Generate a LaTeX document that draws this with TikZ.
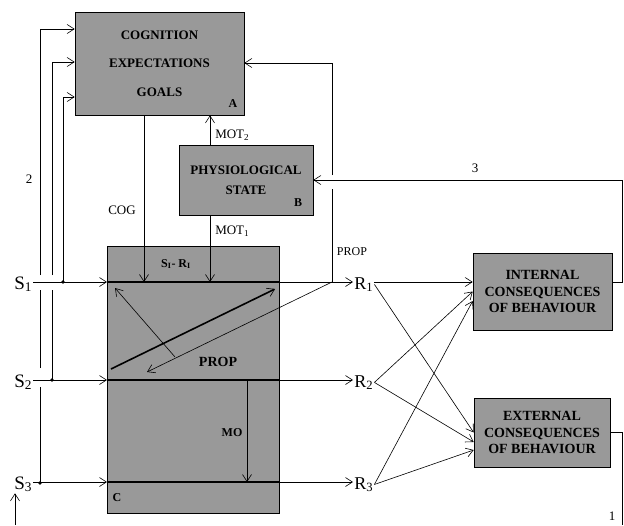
\documentclass[tikz,border=0pt]{standalone}
\usepackage{fontspec}
\setmainfont{Liberation Serif}
\usetikzlibrary{arrows.meta}

\tikzset{
    box/.style={draw, fill=black!40, line width=0.6pt, inner sep=0pt, align=center,
        font=\fontsize{13}{15.6}\selectfont\bfseries},
    cbox/.style={box, font=\fontsize{14}{16.5}\selectfont\bfseries},
    arr/.style={-{Straight Barb[length=7pt,width=9pt,line width=0.6pt]}},
    band/.style={line width=2.4pt},
    lbl/.style={inner sep=0pt, font=\fontsize{13}{15}\selectfont},
    blbl/.style={inner sep=0pt, font=\fontsize{12}{14}\selectfont\bfseries},
    bigl/.style={inner sep=1pt, font=\fontsize{19}{20}\selectfont},
}

\begin{document}
\begin{tikzpicture}[x=1pt, y=-1pt, line width=0.6pt]
    \useasboundingbox (0,0) rectangle (624,525);

    \node[box, minimum width=169pt, minimum height=103pt] (A) at (159.5,63.5)
        {COGNITION\\[13pt]EXPECTATIONS\\[13pt]GOALS};
    \node[box, minimum width=134pt, minimum height=70pt] (B) at (246,180)
        {PHYSIOLOGICAL\\[4.5pt]STATE};
    \node[box, minimum width=172pt, minimum height=267pt] (C) at (193,379.5) {};
    \node[cbox, minimum width=139pt, minimum height=77pt] (Int) at (542.5,291.5)
        {INTERNAL\\CONSEQUENCES\\OF BEHAVIOUR};
    \node[cbox, minimum width=136pt, minimum height=69pt] (Ext) at (542,432.5)
        {EXTERNAL\\CONSEQUENCES\\OF BEHAVIOUR};

    \node[blbl] (al) at (233,104) {A};
    \node[blbl] (bl) at (298,203) {B};
    \node[blbl] (cl) at (117,498) {C};

    \foreach \s/\y in {1/282,2/380,3/482} {
        \coordinate (in\s) at (107,\y);
        \coordinate (out\s) at (279,\y);
        \node[bigl, anchor=base west] (S\s) at (13,\y+7) {S\textsubscript{\s}};
        \node[bigl, anchor=base west, font=\fontsize{18}{20}\selectfont] (R\s) at (353,\y+7) {R\textsubscript{\s}};
        \draw[band] (in\s) -- (out\s);
        \draw[arr] (S\s.east |- in\s) -- (in\s);
        \draw[arr] (out\s) -- (R\s.west |- out\s);
    }

    \coordinate (j1) at (63,282);
    \coordinate (j2) at (52,380);
    \coordinate (j3) at (40,483);
    \coordinate (t1) at (63,97);
    \coordinate (t2) at (52,62);
    \coordinate (t3) at (40,29);
    \draw[arr] (j1) -- (t1) -- (A.west |- t1);
    \draw (j2) -- (52,290);
    \draw[arr] (52,275) -- (t2) -- (A.west |- t2);
    \draw (j3) -- (40,387);
    \draw (40,368) -- (40,290);
    \draw[arr] (40,275) -- (t3) -- (A.west |- t3);
    \foreach \j in {1,2,3}
        \fill (j\j) circle (1.8);
    \node[lbl] (n2) at (29,179) {2};

    \coordinate (cog) at (144,282);
    \coordinate (mot) at (210,282);
    \draw[arr] (A.south -| cog) -- (cog);
    \draw[arr] (B.south -| mot) -- (mot);
    \draw[arr] (B.north -| mot) -- (A.south -| mot);
    \node[lbl] (cogl) at (122,210) {COG};
    \node[lbl, anchor=west] (mot2l) at (215,135) {MOT\textsubscript{2}};
    \node[lbl, anchor=west] (mot1l) at (215,231) {MOT\textsubscript{1}};
    \node[blbl] (srl) at (176,264) {S\textsubscript{I}- R\textsubscript{I}};

    \coordinate (p0) at (332,282);
    \coordinate (p1) at (332,63);
    \coordinate (p2) at (147,372);
    \draw (p0) -- (332,189);
    \draw[arr] (332,175) -- (p1) -- (A.east |- p1);
    \draw[arr] (p0) -- (p2);
    \node[lbl, font=\fontsize{12}{12}\selectfont] (propl) at (352,252) {PROP};

    \coordinate (d0) at (111,369);
    \coordinate (d1) at (275,289);
    \coordinate (e0) at (175,357);
    \coordinate (e1) at (115,288);
    \draw[arr, line width=1.6pt] (d0) -- (d1);
    \draw[arr] (e0) -- (e1);
    \node[blbl, font=\fontsize{14}{14}\selectfont\bfseries] (propc) at (218,362) {PROP};

    \coordinate (mo) at (247,380);
    \draw[arr] (mo) -- (mo |- in3);
    \node[blbl] (mol) at (232,433) {MO};

    \draw[arr] (R1.east |- out1) -- (Int.west |- out1);
    \draw[arr] (R1.east) -- (Ext.west);
    \draw[arr] (R2.east) -- (Int.west);
    \draw[arr] (R2.east) -- ([yshift=-9.5pt]Ext.west);
    \draw[arr] (R3.east) -- ([yshift=-9.5pt]Int.west);
    \draw[arr] (R3.east) -- ([yshift=-17.5pt]Ext.west);

    \draw[arr] (Int.east |- out1) -- ++(10,0) |- (B.east);
    \node[lbl] (n3) at (475,168) {3};

    \coordinate (c1) at (622,525);
    \coordinate (c0) at (15,525);
    \draw (Ext.east) -| (c1);
    \draw[arr] (c0) -- (c0 |- S3.south);
    \node[lbl] (n1) at (612,516) {1};
\end{tikzpicture}
\end{document}
